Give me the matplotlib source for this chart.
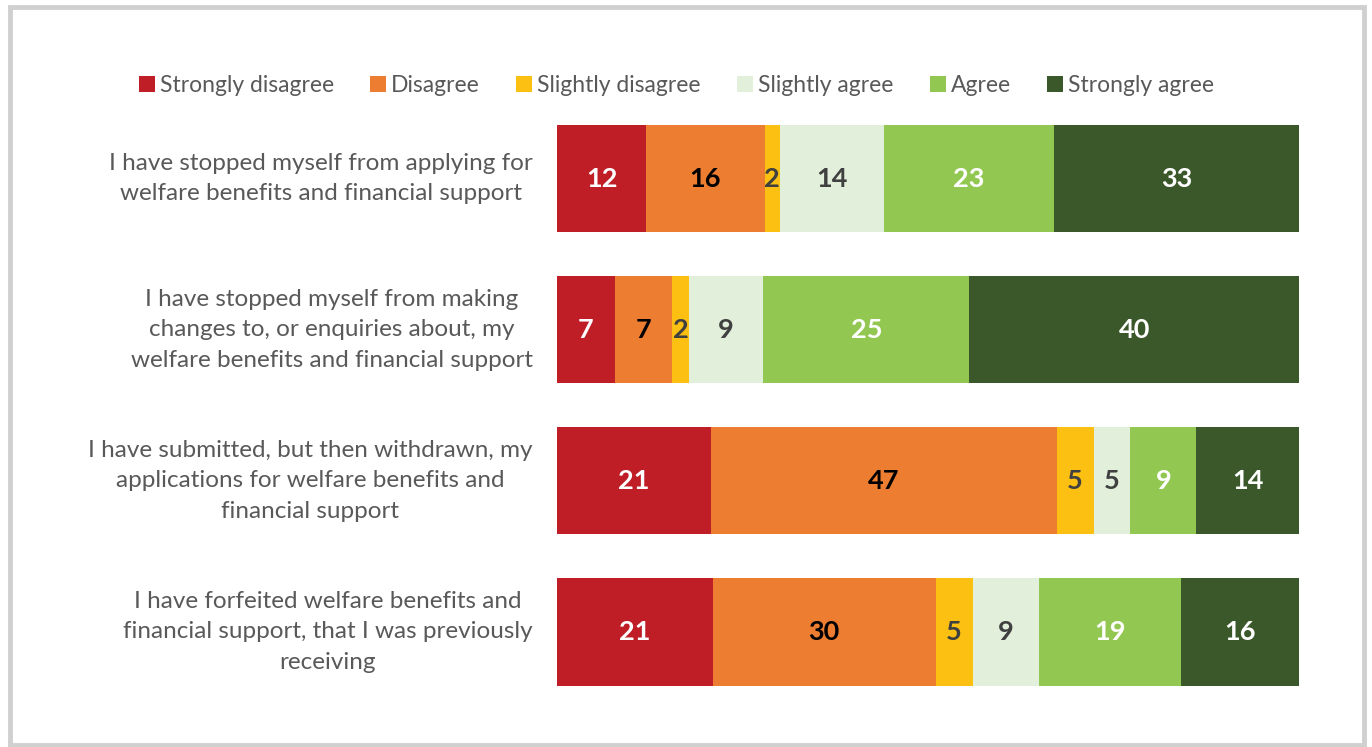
import matplotlib
matplotlib.use('Agg')
import matplotlib.pyplot as plt
from matplotlib.patches import Patch, Rectangle

categories = [
    'I have stopped myself from applying for\nwelfare benefits and financial support',
    'I have stopped myself from making\nchanges to, or enquiries about, my\nwelfare benefits and financial support',
    'I have submitted, but then withdrawn, my\napplications for welfare benefits and\nfinancial support',
    'I have forfeited welfare benefits and\nfinancial support, that I was previously\nreceiving',
]
responses = ['Strongly disagree', 'Disagree', 'Slightly disagree',
             'Slightly agree', 'Agree', 'Strongly agree']
values = {
    'Strongly disagree': [12, 7, 21, 21],
    'Disagree': [16, 7, 47, 30],
    'Slightly disagree': [2, 2, 5, 5],
    'Slightly agree': [14, 9, 5, 9],
    'Agree': [23, 25, 9, 19],
    'Strongly agree': [33, 40, 14, 16],
}

colors = ['#C01E26', '#ED7D31', '#FBC012', '#E2EFDA', '#92C852', '#3A5829']
text_colors = ['white', 'black', '#404040', '#404040', 'white', 'white']

plt.rcParams['font.family'] = ['Lato', 'DejaVu Sans']

fig = plt.figure(figsize=(13.72, 7.47), dpi=100)
ax = fig.add_axes([0.406, 0.053, 0.541, 0.809])

# each row is scaled to fill the full bar width
totals = [sum(values[r][i] for r in responses) for i in range(len(categories))]
ypos = list(range(len(categories)))
left = [0.0] * len(categories)
for resp, col, tcol in zip(responses, colors, text_colors):
    widths = [v / t * 100 for v, t in zip(values[resp], totals)]
    ax.barh(ypos, widths, left=left, height=0.71, color=col, linewidth=0)
    for i, (v, w) in enumerate(zip(values[resp], widths)):
        ax.text(left[i] + w / 2, i, str(v), ha='center', va='center',
                fontsize=19.5, fontweight='bold', color=tcol)
    left = [l + w for l, w in zip(left, widths)]

ax.set_xlim(0, 100)
ax.set_ylim(3.5, -0.5)
ax.axis('off')

for i, cat in enumerate(categories):
    ax.text(-3.3, i, cat, ha='right', va='center', multialignment='center',
            fontsize=17.5, color='#595959', linespacing=1.55)

handles = [Patch(facecolor=c, edgecolor='none', label=r)
           for r, c in zip(responses, colors)]
fig.legend(handles=handles, loc='center', bbox_to_anchor=(0.493, 0.886),
           ncol=6, frameon=False, fontsize=16.5, labelcolor='#595959',
           handlelength=0.7, handleheight=0.7, handletextpad=0.2,
           columnspacing=1.6)

fig.patches.append(Rectangle((0.0075, 0.003), 0.987, 0.987,
                             transform=fig.transFigure, fill=False,
                             edgecolor='#D0D0D0', linewidth=3.5))

fig.savefig('out.png', dpi=100)
